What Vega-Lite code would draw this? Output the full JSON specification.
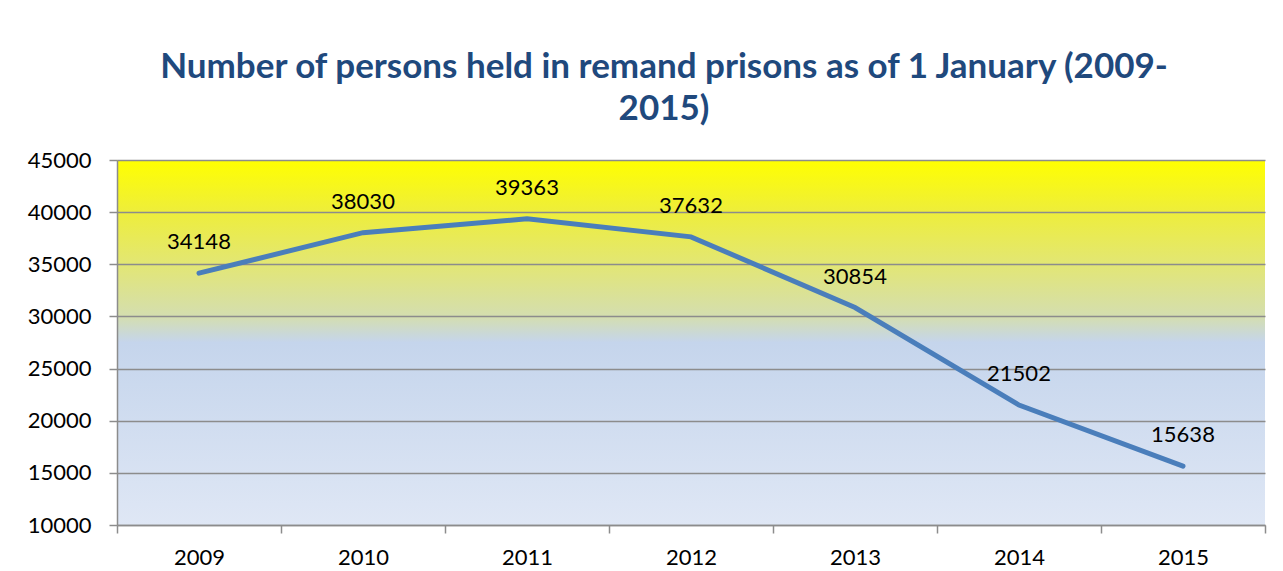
{
  "$schema": "https://vega.github.io/schema/vega-lite/v6.json",
  "width": 1148,
  "height": 365,
  "autosize": {"type": "none"},
  "padding": {"left": 117, "top": 160, "right": 18, "bottom": 46},
  "background": "white",
  "title": {
    "text": ["Number of persons held in remand prisons as of 1 January (2009-", "2015)"],
    "font": "Lato",
    "fontSize": 35,
    "fontWeight": "bold",
    "color": "#1F497D",
    "lineHeight": 42,
    "anchor": "middle",
    "dx": -27,
    "offset": 22
  },
  "config": {
    "view": {
      "stroke": null,
      "fill": {
        "gradient": "linear",
        "x1": 0, "y1": 0, "x2": 0, "y2": 1,
        "stops": [
          {"offset": 0, "color": "#FFFF00"},
          {"offset": 0.14, "color": "#EEEE3A"},
          {"offset": 0.29, "color": "#E2E676"},
          {"offset": 0.43, "color": "#D4DEB0"},
          {"offset": 0.5, "color": "#C5D5EC"},
          {"offset": 1, "color": "#DFE7F5"}
        ]
      }
    },
    "axis": {
      "labelFont": "Lato",
      "labelFontSize": 22,
      "labelColor": "#000000",
      "domainColor": "#8C8C8C",
      "domainWidth": 1.5,
      "tickColor": "#8C8C8C",
      "tickWidth": 1.5,
      "gridColor": "#8C8C8C",
      "gridWidth": 1.5,
      "gridOpacity": 1,
      "title": null
    }
  },
  "data": {
    "values": [
      {"year": "2009", "value": 34148},
      {"year": "2010", "value": 38030},
      {"year": "2011", "value": 39363},
      {"year": "2012", "value": 37632},
      {"year": "2013", "value": 30854},
      {"year": "2014", "value": 21502},
      {"year": "2015", "value": 15638}
    ]
  },
  "encoding": {
    "x": {
      "field": "year",
      "type": "ordinal",
      "bandPosition": 0.5,
      "scale": {"type": "band", "paddingInner": 0, "paddingOuter": 0},
      "axis": {"labelAngle": 0, "tickBand": "extent", "tickSize": 8, "labelPadding": 14, "grid": false}
    },
    "y": {
      "field": "value",
      "type": "quantitative",
      "scale": {"domain": [10000, 45000], "nice": false, "zero": false},
      "axis": {"values": [10000, 15000, 20000, 25000, 30000, 35000, 40000, 45000], "format": "d", "tickSize": 8, "labelPadding": 18, "grid": true}
    }
  },
  "layer": [
    {
      "mark": {"type": "line", "color": "#4A7EBB", "strokeWidth": 5, "strokeCap": "round"}
    },
    {
      "mark": {"type": "text", "dy": -24, "baseline": "alphabetic", "font": "Lato", "fontSize": 22, "color": "#000000"},
      "encoding": {"text": {"field": "value", "type": "quantitative", "format": "d"}}
    }
  ]
}
